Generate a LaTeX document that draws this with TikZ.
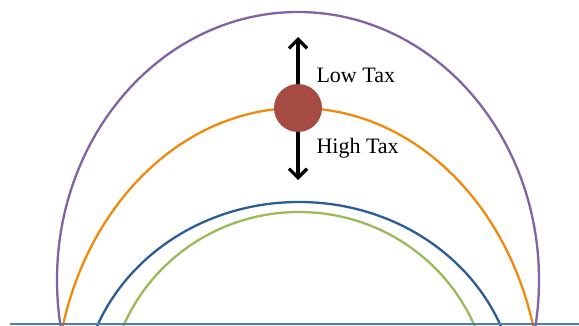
\documentclass[tikz,border=0pt]{standalone}
\usepackage{fontspec}
\setmainfont{Liberation Serif}
\usetikzlibrary{arrows.meta}

\definecolor{lowpurple}{HTML}{8064A2}
\definecolor{taxorange}{HTML}{F08A0C}
\definecolor{deepblue}{HTML}{2B5D93}
\definecolor{softgreen}{HTML}{9BBB59}
\definecolor{groundblue}{HTML}{4A7DB5}
\definecolor{ballred}{HTML}{A64B43}

\begin{document}
\begin{tikzpicture}[x=1pt,y=1pt,
    curve/.style={line width=2.3pt},
    push/.style={line width=3.2pt,-{Straight Barb[length=9pt,width=18pt,line width=3.2pt]}},
    taxlabel/.style={anchor=west,font=\fontsize{22}{25}\selectfont}]
\useasboundingbox (0,0) rectangle (579,325);

    % Curves, cut off at the ground line
    \begin{scope}
    \clip (0,0) rectangle (579,325);
    \draw[curve, lowpurple] (298,45) ellipse (241 and 268);
    \draw[curve, taxorange] (298,-75) ellipse (243 and 292);
    \draw[curve, deepblue] (299,-75) ellipse (217.5 and 198);
    \draw[curve, softgreen] (299,-75) ellipse (191 and 188);
    \end{scope}

    % Ground line
    \coordinate (gl) at (10,1);
    \coordinate (gr) at (579,1);
    \draw[line width=2pt, groundblue] (gl) -- (gr);

    % The ball and where it can move
    \node[circle, fill=ballred, minimum size=48pt, inner sep=0pt] (ball) at (298,217) {};
    \coordinate (up) at (298,288);
    \coordinate (down) at (298,145);
    \draw[push] (ball.north) -- (up);
    \draw[push] (ball.south) -- (down);

    % Labels
    \node[taxlabel] (low) at (313,250) {Low Tax};
    \node[taxlabel] (high) at (313,177) {High Tax};

\end{tikzpicture}
\end{document}
